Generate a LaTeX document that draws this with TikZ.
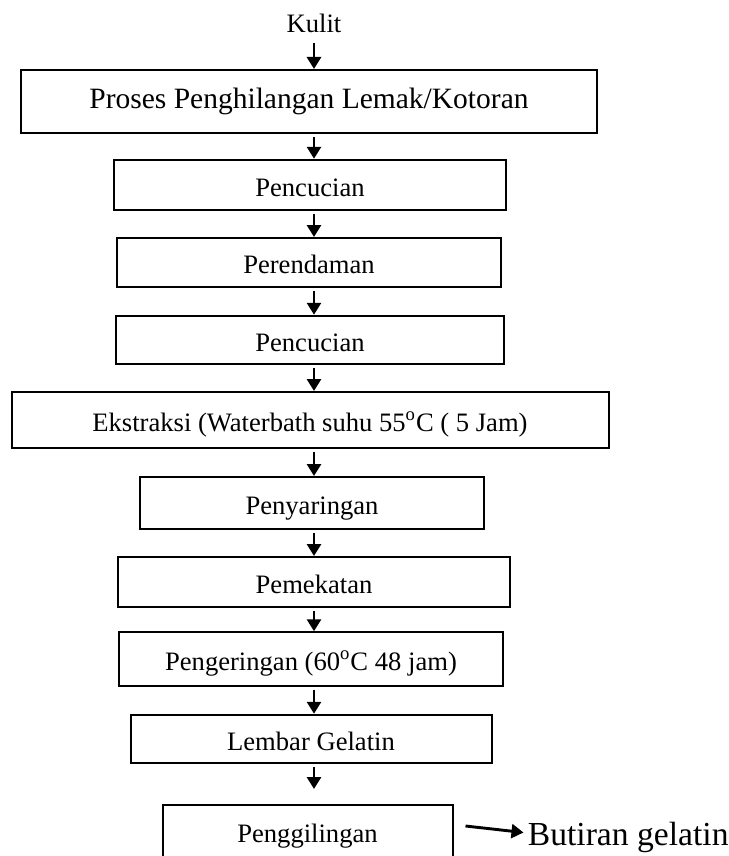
\documentclass[tikz,border=0pt]{standalone}
\usepackage{fontspec}
\setmainfont{Liberation Serif}
\usetikzlibrary{shapes,arrows.meta,positioning}
\tikzstyle{box} = [draw, rectangle, line width=1pt, inner sep=0pt]
\tikzstyle{block} = [box, text height=11.5pt, text depth=0.5pt, font=\fontsize{13.3pt}{16pt}\selectfont]
\tikzstyle{line} = [draw, line width=1.45pt, -{Triangle[length=6pt,width=7pt]}, shorten <=1.5pt]

\begin{document}
\begin{tikzpicture}[node distance = 40pt]
    \path[use as bounding box] (0,0) rectangle (364pt,-428pt);
    \clip (0,0) rectangle (364pt,-428pt);
    \node [box, minimum width=288pt, minimum height=31.5pt, font=\fontsize{14.75pt}{17pt}\selectfont] (proses) at (154.5pt,-50.75pt) {Proses Penghilangan Lemak/Kotoran};
    \node [above of=proses, node distance=39.25pt, xshift=2.5pt, font=\fontsize{13.3pt}{16pt}\selectfont] (kulit) {Kulit};
    \node [block, below of=proses, node distance=41.75pt, xshift=0.5pt, minimum width=196pt, minimum height=25.25pt] (cuci1) {Pencucian};
    \node [block, below of=cuci1, node distance=38.75pt, xshift=-0.5pt, minimum width=192pt, minimum height=24.5pt] (rendam) {Perendaman};
    \node [block, below of=rendam, node distance=38.75pt, xshift=0.5pt, minimum width=194pt, minimum height=24.25pt] (cuci2) {Pencucian};
    \node [block, below of=cuci2, node distance=40pt, minimum width=298.5pt, minimum height=28pt] (ekstrak) {Ekstraksi (Waterbath suhu 55\textsuperscript{o}C ( 5 Jam)};
    \node [block, below of=ekstrak, node distance=41.5pt, xshift=1pt, minimum width=172pt, minimum height=26pt] (saring) {Penyaringan};
    \node [block, below of=saring, node distance=39.5pt, xshift=1pt, minimum width=196pt, minimum height=25pt] (pekat) {Pemekatan};
    \node [block, below of=pekat, node distance=38.5pt, xshift=-1.5pt, minimum width=192pt, minimum height=26.75pt] (kering) {Pengeringan (60\textsuperscript{o}C 48 jam)};
    \node [block, below of=kering, node distance=40pt, minimum width=180.5pt, minimum height=24.25pt] (lembar) {Lembar Gelatin};
    \node [block, below of=lembar, node distance=46.25pt, xshift=-1.75pt, minimum width=145pt, minimum height=26.5pt] (giling) {Penggilingan};
    \node [right=37pt of giling, yshift=-3pt, inner sep=0pt, font=\fontsize{16.8pt}{20pt}\selectfont] (butiran) {Butiran gelatin};
    \path [line, shorten <=2pt] (kulit) -- (proses.north -| kulit);
    \path [line] (proses.south -| kulit) -- (cuci1.north -| kulit);
    \path [line] (cuci1.south -| kulit) -- (rendam.north -| kulit);
    \path [line] (rendam.south -| kulit) -- (cuci2.north -| kulit);
    \path [line] (cuci2.south -| kulit) -- (ekstrak.north -| kulit);
    \path [line] (ekstrak.south -| kulit) -- (saring.north -| kulit);
    \path [line] (saring.south -| kulit) -- (pekat.north -| kulit);
    \path [line] (pekat.south -| kulit) -- (kering.north -| kulit);
    \path [line] (kering.south -| kulit) -- (lembar.north -| kulit);
    \path [line, shorten >=7.5pt] (lembar.south -| kulit) -- (giling.north -| kulit);
    \path [line, shorten <=0pt] ([xshift=6pt,yshift=2.75pt]giling.east) -- ([xshift=-2pt,yshift=2.5pt]butiran.west);
\end{tikzpicture}
\end{document}
